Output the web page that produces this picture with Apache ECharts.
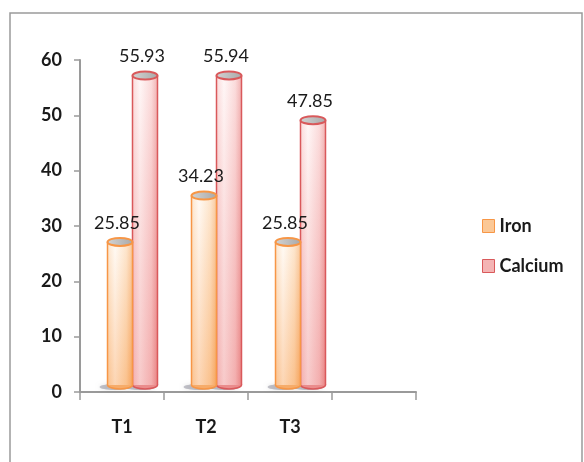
<!DOCTYPE html>
<html>
<head>
<meta charset="utf-8">
<script src="https://cdn.jsdelivr.net/npm/echarts@6/dist/echarts.min.js"></script>
<style>
  html, body { margin: 0; padding: 0; background: #fff; }
  #main { width: 584px; height: 462px; }
</style>
</head>
<body>
<div id="main"></div>
<script>
// values
var categories = ['T1', 'T2', 'T3', ''];
var ironValues = [25.85, 34.23, 25.85];
var calciumValues = [55.93, 55.94, 47.85];
var yTicks = { min: 0, max: 60, interval: 10 };

var FONT = 'Lato, "Open Sans", sans-serif';

function cylinder(offset, c) {
    return function (params, api) {
        var i = api.value(0), v = api.value(1);
        var base = api.coord([i, 0]);
        var top = api.coord([i, v]);
        var w = 25, lift = 7, eh = 8;
        var cx = base[0] + offset;
        var y0 = base[1] - lift, y1 = top[1] - lift;
        var x0 = cx - w / 2;
        return {
            type: 'group',
            children: [
                { type: 'ellipse', shape: { cx: cx - 5, cy: y0 + 2, rx: w / 2 + 3, ry: 3 },
                  style: { fill: 'rgba(90,90,110,0.35)', shadowBlur: 4, shadowColor: 'rgba(0,0,0,0.3)' } },
                { type: 'ellipse', shape: { cx: cx, cy: y0, rx: w / 2, ry: eh / 2 },
                  style: { fill: c.dark, stroke: c.border, lineWidth: 1.5 } },
                { type: 'rect', shape: { x: x0, y: y1, width: w, height: y0 - y1 },
                  style: { fill: new echarts.graphic.LinearGradient(0, 0, 1, 0, [
                      { offset: 0, color: c.mid },
                      { offset: 0.3, color: c.light },
                      { offset: 0.75, color: c.mid },
                      { offset: 1, color: c.dark }
                  ]) } },
                { type: 'rect', shape: { x: x0, y: y1, width: w, height: y0 - y1 },
                  style: { fill: new echarts.graphic.LinearGradient(0, 0, 0, 1, [
                      { offset: 0, color: 'rgba(255,255,255,0.35)' },
                      { offset: 1, color: c.shade }
                  ]) } },
                { type: 'line', shape: { x1: x0, y1: y1, x2: x0, y2: y0 },
                  style: { stroke: c.border, lineWidth: 1.5 } },
                { type: 'line', shape: { x1: x0 + w, y1: y1, x2: x0 + w, y2: y0 },
                  style: { stroke: c.border, lineWidth: 1.5 } },
                { type: 'ellipse', shape: { cx: cx, cy: y1, rx: w / 2, ry: eh / 2 },
                  style: { fill: new echarts.graphic.LinearGradient(0, 0, 1, 0, [
                      { offset: 0, color: '#d4d4d4' }, { offset: 1, color: '#a8a8a8' }
                  ]), stroke: c.border, lineWidth: 2 } },
                { type: 'text', x: cx - 3, y: y1 - 19,
                  style: { text: v.toFixed(2), align: 'center', verticalAlign: 'middle',
                           font: '18px ' + FONT, fill: '#1a1a1a' } }
            ]
        };
    };
}

var iron = { light: '#fff8f0', mid: '#fcd9b4', dark: '#f6ac6a', border: '#f79646', shade: 'rgba(247,150,70,0.35)' };
var calcium = { light: '#fff3f3', mid: '#f9caca', dark: '#ea8c8c', border: '#d9595b', shade: 'rgba(230,110,110,0.3)' };

var chart = echarts.init(document.getElementById('main'));
chart.setOption({
    animation: false,
    graphic: [{
        type: 'rect', shape: { x: 10, y: 13, width: 572, height: 470 },
        style: { fill: 'none', stroke: '#9a9a9a', lineWidth: 1.5 }, silent: true
    }],
    grid: { left: 80, right: 168, top: 60, bottom: 70 },
    legend: {
        orient: 'vertical', left: 477, top: 212, itemGap: 22,
        itemWidth: 12, itemHeight: 13, icon: 'rect',
        textStyle: { fontFamily: FONT, fontWeight: 'bold', fontSize: 18, color: '#1a1a1a' },
        data: [
            { name: 'Iron', itemStyle: { color: '#fbc896', borderColor: '#f79646', borderWidth: 1 } },
            { name: 'Calcium', itemStyle: { color: '#f4b4b4', borderColor: '#d9595b', borderWidth: 1 } }
        ]
    },
    xAxis: {
        type: 'category', data: categories,
        axisLine: { lineStyle: { color: '#9a9a9a', width: 2 } },
        axisTick: { show: true, length: 8, lineStyle: { color: '#9a9a9a', width: 1.5 } },
        axisLabel: { margin: 26, fontFamily: FONT, fontWeight: 'bold', fontSize: 18, color: '#1a1a1a' },
        splitLine: { show: false }
    },
    yAxis: {
        type: 'value', min: yTicks.min, max: yTicks.max, interval: yTicks.interval,
        axisLine: { show: true, lineStyle: { color: '#9a9a9a', width: 2 } },
        axisTick: { show: true, length: 6, lineStyle: { color: '#9a9a9a', width: 1.5 } },
        axisLabel: { margin: 18, fontFamily: FONT, fontWeight: 'bold', fontSize: 18, color: '#1a1a1a' },
        splitLine: { show: false }
    },
    series: [
        {
            // drawn above calcium so its labels stay readable where they overlap
            name: 'Iron', type: 'custom', z: 3, renderItem: cylinder(-2, iron),
            itemStyle: { color: '#fbc896' },
            encode: { x: 0, y: 1 },
            data: ironValues.map(function (v, i) { return [i, v]; })
        },
        {
            name: 'Calcium', type: 'custom', z: 2, renderItem: cylinder(23, calcium),
            itemStyle: { color: '#f4b4b4' },
            encode: { x: 0, y: 1 },
            data: calciumValues.map(function (v, i) { return [i, v]; })
        }
    ]
});
</script>
</body>
</html>
